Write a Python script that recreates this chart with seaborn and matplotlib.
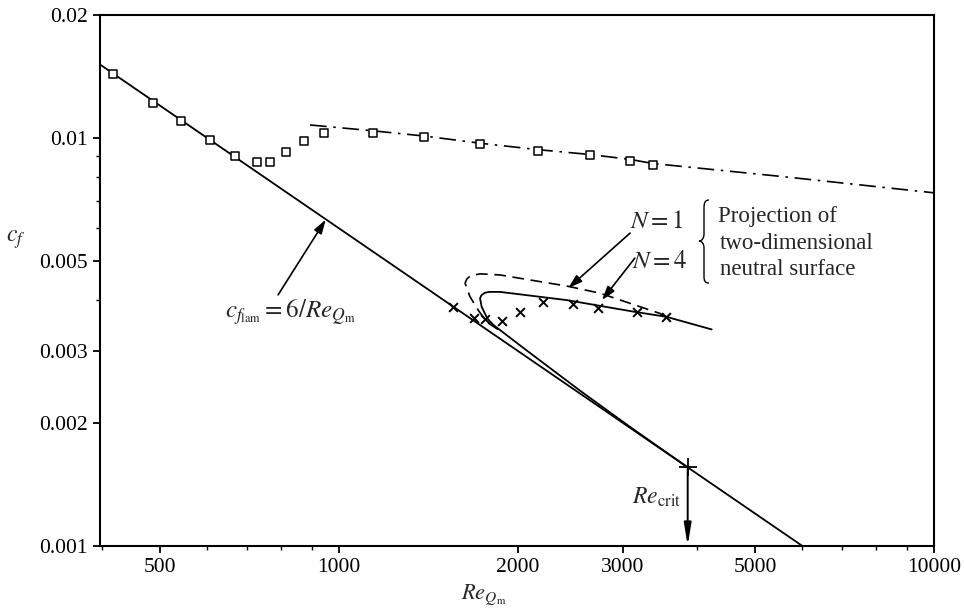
import numpy as np
import pandas as pd
import matplotlib
matplotlib.use("Agg")
import matplotlib.pyplot as plt
import seaborn as sns
from matplotlib.ticker import FixedLocator, FixedFormatter, NullFormatter
from matplotlib.path import Path
from matplotlib.patches import PathPatch

# ---------------- data ----------------
# laminar line c_f = 6/Re (end points)
lam_re = [390, 6000]
lam_cf = [0.01538, 0.001]

# open squares (measurements)
sq_re = [417, 487, 543, 608, 669, 728, 766, 816, 874, 943, 1142, 1391, 1726, 2163, 2641, 3088, 3367]
sq_cf = [0.01433, 0.01217, 0.01097, 0.00988, 0.00901, 0.00870, 0.00870, 0.00923, 0.00980,
         0.01026, 0.01029, 0.01006, 0.00967, 0.00930, 0.00909, 0.00879, 0.00858]

# dash-dot curve through the upper squares
dd_re = [894, 1142, 1391, 1726, 2163, 2641, 3088, 3367, 5581, 10000]
dd_cf = [0.01075, 0.01040, 0.01010, 0.00970, 0.00935, 0.00910, 0.00885, 0.00865, 0.00803, 0.00733]

# crosses
x_re = [1556, 1686, 1759, 1877, 2015, 2199, 2470, 2728, 3172, 3545]
x_cf = [0.00385, 0.00361, 0.00360, 0.00356, 0.00375, 0.00395, 0.00391, 0.00383, 0.00374, 0.00363]

# N = 4 neutral curve (solid)
n4_re = [4230, 3551, 3120, 2415, 1865, 1790, 1759, 1735, 1726, 1737, 1775, 1816, 2068, 2541, 3085, 3855]
n4_cf = [0.00339, 0.00364, 0.00375, 0.00400, 0.00419, 0.00419, 0.00417, 0.00411, 0.00404,
         0.00385, 0.00361, 0.00348, 0.00301, 0.00240, 0.001955, 0.001556]

# N = 1 neutral curve (dashed)
n1_re = [3530, 3463, 2745, 2415, 1865, 1726, 1660, 1639, 1629, 1660, 1714, 1770, 1865]
n1_cf = [0.00364, 0.00371, 0.00416, 0.00433, 0.00461, 0.00464, 0.00458, 0.00450, 0.00440,
         0.00408, 0.00378, 0.00354, 0.00336]

# critical Reynolds number point
crit_re = 3855
crit_cf = 0.00156

x_ticks = [500, 1000, 2000, 3000, 5000, 10000]
x_ticklabels = ["500", "1000", "2000", "3000", "5000", "10000"]
x_minor = [400, 600, 700, 800, 900, 4000, 6000, 7000, 8000, 9000]
y_ticks = [0.001, 0.002, 0.003, 0.005, 0.01, 0.02]
y_ticklabels = ["0.001", "0.002", "0.003", "0.005", "0.01", "0.02"]
y_minor = [0.004, 0.006, 0.007, 0.008, 0.009]

# ---------------- style ----------------
sns.set_theme(style="ticks")
plt.rcParams["font.family"] = ["Liberation Serif", "DejaVu Serif"]
plt.rcParams["mathtext.fontset"] = "stix"

W, H = 964, 615
fig = plt.figure(figsize=(W / 100, H / 100), dpi=100)
L, R, T, B = 100, 934, 15, 545.7
ax = fig.add_axes([L / W, 1 - B / H, (R - L) / W, (B - T) / H])
ax.set_xscale("log")
ax.set_yscale("log")


def pax(px, py):
    """pixel position -> axes fraction"""
    return ((px - L) / (R - L), (B - py) / (B - T))


k = dict(ax=ax, color="black", sort=False, estimator=None, legend=False)
sns.lineplot(x=lam_re, y=lam_cf, lw=1.3, **k)
sns.lineplot(x=dd_re, y=dd_cf, lw=1.2, linestyle=(0, (10, 4, 1.5, 4)), **k)
sns.lineplot(x=n4_re, y=n4_cf, lw=1.3, **k)
sns.lineplot(x=n1_re, y=n1_cf, lw=1.2, linestyle=(0, (7, 4)), **k)

sns.scatterplot(x=sq_re, y=sq_cf, ax=ax, marker="s", s=36, facecolor="white",
                edgecolor="black", linewidth=1.1, zorder=4, legend=False)
sns.scatterplot(x=x_re, y=x_cf, ax=ax, marker="x", s=40, color="black",
                linewidth=1.4, zorder=4, legend=False)
sns.scatterplot(x=[crit_re], y=[crit_cf], ax=ax, marker="+", s=160, color="black",
                linewidth=1.3, zorder=5, legend=False)

ax.set_xlim(396.6, 10000)
ax.set_ylim(0.001, 0.02)

# ticks
ax.xaxis.set_major_locator(FixedLocator(x_ticks))
ax.xaxis.set_major_formatter(FixedFormatter(x_ticklabels))
ax.xaxis.set_minor_locator(FixedLocator(x_minor))
ax.xaxis.set_minor_formatter(NullFormatter())
ax.yaxis.set_major_locator(FixedLocator(y_ticks))
ax.yaxis.set_major_formatter(FixedFormatter(y_ticklabels))
ax.yaxis.set_minor_locator(FixedLocator(y_minor))
ax.yaxis.set_minor_formatter(NullFormatter())
ax.tick_params(which="major", direction="out", length=5, width=1.3, labelsize=15.5,
               pad=4, colors="black")
ax.tick_params(which="minor", direction="out", length=3, width=1.0, colors="black")
for s in ax.spines.values():
    s.set_linewidth(1.5)
    s.set_color("black")
    s.set_visible(True)

ax.set_xlabel(r"$Re_{Q_\mathrm{m}}$", fontsize=16)
ax.xaxis.set_label_coords(*pax(484, 583))
ax.set_ylabel(r"$c_f$", fontsize=17, rotation=0, va="center")
ax.yaxis.set_label_coords(*pax(16, 240))

# ---------------- annotations ----------------
arrow = dict(arrowstyle="-|>,head_length=0.7,head_width=0.22", color="black", lw=1.2,
             shrinkA=0, shrinkB=0)
ax.annotate("", xy=(950, 0.00630), xytext=(790, 0.00412), arrowprops=arrow)
ax.text(*pax(290, 312), r"$c_{f_{\mathrm{lam}}} = 6/Re_{Q_\mathrm{m}}$", transform=ax.transAxes,
        fontsize=18, ha="center", va="center")

ax.annotate("", xy=(2429, 0.00428), xytext=(3085, 0.00584), arrowprops=arrow)
ax.annotate("", xy=(2767, 0.00400), xytext=(3142, 0.00507), arrowprops=arrow)
ax.text(*pax(657, 222), r"$N = 1$", transform=ax.transAxes, fontsize=18, ha="center", va="center")
ax.text(*pax(660, 262), r"$N = 4$", transform=ax.transAxes, fontsize=18, ha="center", va="center")

for txt, bx, by in [("Projection of", 718, 221.7), ("two-dimensional", 720, 249),
                    ("neutral surface", 720, 275)]:
    ax.text(*pax(bx, by), txt, transform=ax.transAxes, fontsize=16.5, ha="left", va="baseline")

# brace
bp = [(709, 200), (705, 200), (704, 203), (704, 208), (704, 234), (704, 238), (702, 241),
      (699, 241), (702, 241), (704, 244), (704, 248), (704, 276), (704, 281), (705, 283),
      (709, 283)]
codes = [Path.MOVETO, Path.CURVE4, Path.CURVE4, Path.CURVE4, Path.LINETO, Path.CURVE4,
         Path.CURVE4, Path.CURVE4, Path.CURVE4, Path.CURVE4, Path.CURVE4, Path.LINETO,
         Path.CURVE4, Path.CURVE4, Path.CURVE4]
ax.add_patch(PathPatch(Path([pax(*p) for p in bp], codes), transform=ax.transAxes,
                       fill=False, lw=1.0, color="black", clip_on=False))

# Re_crit arrow
ax.annotate("", xy=(crit_re, 0.001), xytext=(crit_re, crit_cf),
            arrowprops=dict(arrowstyle="-|>,head_length=1.1,head_width=0.18", color="black",
                            lw=1.4, shrinkA=0, shrinkB=0))
ax.text(*pax(681, 497), r"$Re_{\mathrm{crit}}$", transform=ax.transAxes, fontsize=17,
        ha="right", va="center")

fig.savefig("out.png", dpi=100, facecolor="white")
